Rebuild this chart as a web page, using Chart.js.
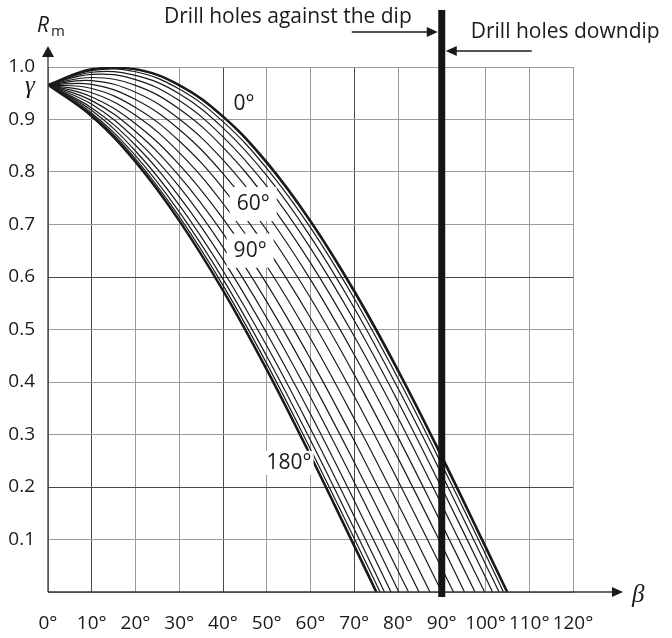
<!DOCTYPE html>
<html>
<head>
<meta charset="utf-8">
<script src="https://cdn.jsdelivr.net/npm/chart.js@4.4.0/dist/chart.umd.min.js"></script>
<style>
    html, body { margin: 0; padding: 0; background: #fff; }
    #wrap { width: 672px; height: 638px; }
</style>
</head>
<body>
<div id="wrap"><canvas id="rmChart" width="672" height="638"></canvas></div>
<script>
// Axis ticks
const betaTicks = [0, 10, 20, 30, 40, 50, 60, 70, 80, 90, 100, 110, 120];
const rmTicks = [0, 0.1, 0.2, 0.3, 0.4, 0.5, 0.6, 0.7, 0.8, 0.9, 1.0];

// Curve family (angle parameter) and R_m read at beta = 0, 10, 20 ... deg
const betaSteps = [0, 10, 20, 30, 40, 50, 60, 70, 80, 90, 100];
const curveAngles = [0, 10, 20, 30, 40, 50, 60, 70, 80, 90, 100, 110, 120, 130, 140, 150, 160, 170, 180];
const endBeta = [105, 104.8, 104.1, 103.1, 101.6, 99.8, 97.6, 95.2, 92.7, 90, 87.3, 84.8, 82.4, 80.2, 78.4, 76.9, 75.9, 75.2, 75];
const rmValues = [
    [0.966, 0.996, 0.996, 0.966, 0.906, 0.819, 0.707, 0.574, 0.423, 0.259, 0.087],
    [0.966, 0.995, 0.995, 0.964, 0.904, 0.816, 0.704, 0.570, 0.419, 0.255, 0.083],
    [0.966, 0.993, 0.991, 0.958, 0.896, 0.807, 0.694, 0.559, 0.407, 0.243, 0.072],
    [0.966, 0.990, 0.984, 0.949, 0.884, 0.793, 0.677, 0.541, 0.388, 0.224, 0.053],
    [0.966, 0.986, 0.976, 0.936, 0.867, 0.773, 0.655, 0.517, 0.363, 0.198, 0.028],
    [0.966, 0.980, 0.965, 0.920, 0.847, 0.748, 0.627, 0.487, 0.332, 0.166],
    [0.966, 0.974, 0.952, 0.901, 0.823, 0.720, 0.595, 0.452, 0.295, 0.129],
    [0.966, 0.967, 0.938, 0.881, 0.797, 0.689, 0.560, 0.414, 0.255, 0.089],
    [0.966, 0.959, 0.923, 0.859, 0.769, 0.655, 0.522, 0.373, 0.212, 0.045],
    [0.966, 0.951, 0.908, 0.837, 0.740, 0.621, 0.483, 0.330, 0.168],
    [0.966, 0.943, 0.892, 0.814, 0.711, 0.587, 0.444, 0.288, 0.123],
    [0.966, 0.936, 0.877, 0.792, 0.683, 0.553, 0.406, 0.247, 0.081],
    [0.966, 0.929, 0.863, 0.772, 0.657, 0.522, 0.371, 0.209, 0.040],
    [0.966, 0.922, 0.851, 0.753, 0.633, 0.493, 0.339, 0.174],
    [0.966, 0.917, 0.840, 0.737, 0.612, 0.469, 0.311, 0.144],
    [0.966, 0.912, 0.831, 0.724, 0.596, 0.449, 0.289, 0.120],
    [0.966, 0.909, 0.825, 0.715, 0.584, 0.435, 0.272, 0.102],
    [0.966, 0.907, 0.821, 0.709, 0.576, 0.426, 0.262, 0.091],
    [0.966, 0.906, 0.819, 0.707, 0.574, 0.423, 0.259, 0.087]
];

// Labels placed on the curve family
const curveLabels = [
    { text: '0°', beta: 44.8, rm: 0.930, pad: 2 },
    { text: '60°', beta: 46.9, rm: 0.739, pad: 7 },
    { text: '90°', beta: 46.2, rm: 0.650, pad: 7 },
    { text: '180°', beta: 55.1, rm: 0.246, pad: 2 }
];

const INK = '#1a1a1a';
const FONT = '"Open Sans", "Noto Sans", sans-serif';

const datasets = curveAngles.map((angle, i) => {
    const pts = rmValues[i].map((v, k) => ({ x: betaSteps[k], y: v }));
    pts.push({ x: endBeta[i], y: 0 });
    const edge = angle === 0 || angle === 180;
    return {
        label: angle + '°',
        data: pts,
        borderColor: INK,
        borderWidth: edge ? 2.2 : 1.2,
        pointRadius: 0,
        tension: 0.4,
        fill: false
    };
});

function arrowHead(ctx, tipX, tipY, dir, len, half) {
    // dir: 'right', 'left', 'up'
    ctx.beginPath();
    if (dir === 'right') {
        ctx.moveTo(tipX, tipY);
        ctx.lineTo(tipX - len, tipY - half);
        ctx.lineTo(tipX - len, tipY + half);
    } else if (dir === 'left') {
        ctx.moveTo(tipX, tipY);
        ctx.lineTo(tipX + len, tipY - half);
        ctx.lineTo(tipX + len, tipY + half);
    } else {
        ctx.moveTo(tipX, tipY);
        ctx.lineTo(tipX - half, tipY + len);
        ctx.lineTo(tipX + half, tipY + len);
    }
    ctx.closePath();
    ctx.fill();
}

const decorations = {
    id: 'decorations',
    afterDatasetsDraw(chart) {
        const ctx = chart.ctx;
        const xs = chart.scales.x, ys = chart.scales.y;
        ctx.save();
        ctx.font = '21px ' + FONT;
        ctx.textAlign = 'center';
        ctx.textBaseline = 'middle';
        curveLabels.forEach(l => {
            const px = xs.getPixelForValue(l.beta);
            const py = ys.getPixelForValue(l.rm);
            const w = ctx.measureText(l.text).width;
            ctx.fillStyle = '#fff';
            ctx.fillRect(px - w / 2 - l.pad, py - 10 - l.pad, w + 2 * l.pad, 20 + 2 * l.pad);
            ctx.fillStyle = INK;
            ctx.fillText(l.text, px, py);
        });
        ctx.restore();
    },
    afterDraw(chart) {
        const ctx = chart.ctx;
        const area = chart.chartArea;
        const xs = chart.scales.x;
        ctx.save();
        ctx.strokeStyle = '#333';
        ctx.fillStyle = INK;
        ctx.lineWidth = 1.3;

        // y axis with arrow
        ctx.beginPath();
        ctx.moveTo(area.left, area.bottom);
        ctx.lineTo(area.left, area.top - 12);
        ctx.stroke();
        arrowHead(ctx, area.left, area.top - 21, 'up', 11, 6);

        // x axis with arrow
        ctx.beginPath();
        ctx.moveTo(area.left, area.bottom);
        ctx.lineTo(area.right + 40, area.bottom);
        ctx.stroke();
        arrowHead(ctx, area.right + 50, area.bottom, 'right', 11, 5);

        // axis titles
        ctx.font = 'italic 21px ' + FONT;
        ctx.textAlign = 'left';
        ctx.textBaseline = 'alphabetic';
        ctx.fillText('R', area.left - 11, area.top - 35);
        ctx.font = '15px ' + FONT;
        ctx.fillText('m', area.left + 3, area.top - 31);
        ctx.font = 'italic 25px "Liberation Serif", "DejaVu Serif", serif';
        ctx.textAlign = 'center';
        ctx.fillText('γ', area.left - 18, area.top + 26);
        ctx.textAlign = 'left';
        ctx.fillText('β', area.right + 59, area.bottom + 10);

        // thick divider at 90 deg
        const x90 = xs.getPixelForValue(90);
        ctx.fillStyle = '#151515';
        ctx.fillRect(x90 - 3.5, area.top - 57, 7, area.bottom - area.top + 62);

        // annotations
        ctx.fillStyle = INK;
        ctx.strokeStyle = INK;
        ctx.lineWidth = 1.3;
        ctx.font = '21px ' + FONT;
        ctx.textAlign = 'right';
        ctx.fillText('Drill holes against the dip', x90 - 30, area.top - 44);
        ctx.textAlign = 'left';
        ctx.fillText('Drill holes downdip', x90 + 29, area.top - 29);

        ctx.beginPath();
        ctx.moveTo(x90 - 90, area.top - 35);
        ctx.lineTo(x90 - 12, area.top - 35);
        ctx.stroke();
        arrowHead(ctx, x90 - 4, area.top - 35, 'right', 11, 5);

        ctx.beginPath();
        ctx.moveTo(x90 + 90, area.top - 16);
        ctx.lineTo(x90 + 12, area.top - 16);
        ctx.stroke();
        arrowHead(ctx, x90 + 4, area.top - 16, 'left', 11, 5);

        ctx.restore();
    }
};

new Chart(document.getElementById('rmChart'), {
    type: 'line',
    data: { datasets: datasets },
    options: {
        responsive: false,
        animation: false,
        events: [],
        layout: { padding: { left: 0, top: 67, right: 99, bottom: 0 } },
        plugins: {
            legend: { display: false },
            tooltip: { enabled: false }
        },
        scales: {
            x: {
                type: 'linear',
                min: 0,
                max: 120,
                afterFit: s => { s.height = 46; },
                afterBuildTicks: s => { s.ticks = betaTicks.map(v => ({ value: v })); },
                border: { display: false },
                grid: {
                    drawTicks: false,
                    lineWidth: 1,
                    color: c => [10, 40, 70].includes(c.tick && c.tick.value) ? '#4a4a4a' : '#9a9a9a'
                },
                ticks: {
                    padding: 20,
                    color: INK,
                    font: { family: FONT, size: 19 },
                    maxRotation: 0,
                    autoSkip: false,
                    callback: v => v + '°'
                }
            },
            y: {
                type: 'linear',
                min: 0,
                max: 1,
                afterFit: s => { s.width = 48; },
                afterBuildTicks: s => { s.ticks = rmTicks.map(v => ({ value: v })); },
                border: { display: false },
                grid: {
                    drawTicks: false,
                    lineWidth: 1,
                    color: c => {
                        const k = Math.round((c.tick ? c.tick.value : 0) * 10);
                        return (k === 2 || k === 6) ? '#4a4a4a' : '#9a9a9a';
                    }
                },
                ticks: {
                    padding: 13,
                    color: INK,
                    font: { family: FONT, size: 19 },
                    autoSkip: false,
                    callback: v => v === 0 ? '' : Number(v).toFixed(1)
                }
            }
        }
    },
    plugins: [decorations]
});
</script>
</body>
</html>
